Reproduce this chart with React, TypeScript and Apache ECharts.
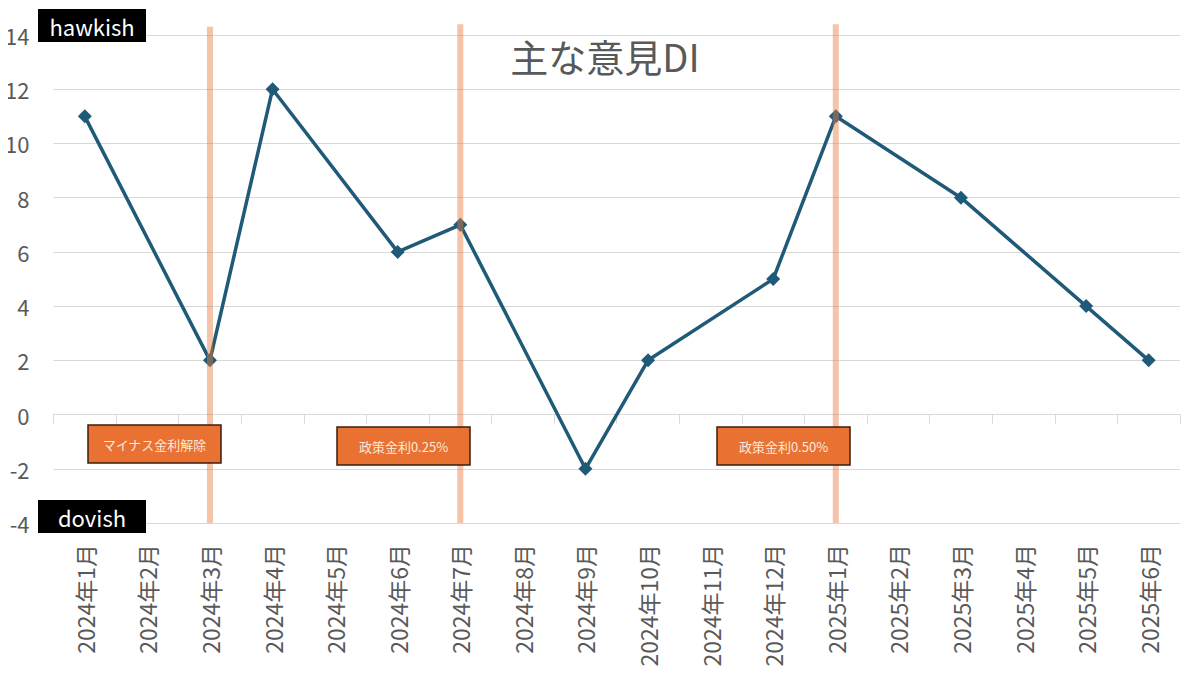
import React, { useEffect, useRef } from "react";
import * as echarts from "echarts";

const categories = [
  "2024年1月", "2024年2月", "2024年3月", "2024年4月", "2024年5月", "2024年6月",
  "2024年7月", "2024年8月", "2024年9月", "2024年10月", "2024年11月", "2024年12月",
  "2025年1月", "2025年2月", "2025年3月", "2025年4月", "2025年5月", "2025年6月",
];
const diValues: (number | null)[] = [
  11, null, 2, 12, null, 6, 7, null, -2, 2, null, 5, 11, null, 8, null, 4, 2,
];
const eventMonths = ["2024年3月", "2024年7月", "2025年1月"];
const eventTops = [14.3, 14.4, 14.4];
const eventLabels = ["マイナス金利解除", "政策金利0.25%", "政策金利0.50%"];

const FONT = "'Noto Sans CJK JP', 'Noto Sans', sans-serif";

export default function App() {
  const ref = useRef<HTMLDivElement>(null);
  useEffect(() => {
    const chart = echarts.init(ref.current!, null, { renderer: "svg" });
    const boxPos = [
      { x: 88, y: 425 },
      { x: 337, y: 427 },
      { x: 717, y: 427 },
    ];
    const boxes = eventLabels.map((t, i) => ({
      type: "group",
      x: boxPos[i].x,
      y: boxPos[i].y,
      z: 100,
      children: [
        {
          type: "rect",
          z: 100,
          shape: { x: 0, y: 0, width: 133, height: 38 },
          style: { fill: "#E97132", stroke: "#3B1E0C", lineWidth: 1.5 },
        },
        {
          type: "text",
          z: 101,
          x: 66.5,
          y: 19,
          style: {
            text: t,
            fill: "#FBE9DD",
            fontSize: 13,
            fontFamily: FONT,
            align: "center",
            verticalAlign: "middle",
          },
        },
      ],
    }));
    const tagBox = (label: string, y: number) => ({
      type: "group",
      x: 38,
      y,
      z: 100,
      children: [
        { type: "rect", z: 100, shape: { x: 0, y: 0, width: 108, height: 33 }, style: { fill: "#000000" } },
        {
          type: "text",
          z: 101,
          x: 54,
          y: 16.5,
          style: {
            text: label,
            fill: "#FFFFFF",
            fontSize: 22,
            fontFamily: FONT,
            align: "center",
            verticalAlign: "middle",
          },
        },
      ],
    });
    chart.setOption({
      animation: false,
      backgroundColor: "#FFFFFF",
      title: {
        text: "主な意見DI",
        left: 600,
        top: 31,
        textAlign: "center",
        textStyle: { fontSize: 38, fontWeight: "normal", color: "#595959", fontFamily: FONT },
      },
      grid: { left: 53.5, right: 20, top: 35, bottom: 152, containLabel: false },
      xAxis: [
        {
          type: "category",
          data: categories,
          position: "bottom",
          boundaryGap: true,
          axisLine: { show: false, onZero: false },
          axisTick: { show: false },
          axisLabel: {
            rotate: 90,
            margin: 21,
            fontSize: 23,
            color: "#595959",
            fontFamily: FONT,
            interval: 0,
          },
          splitLine: { show: false },
        },
        {
          type: "category",
          data: categories,
          position: "bottom",
          boundaryGap: true,
          axisLine: { show: true, onZero: true, lineStyle: { color: "#D9D9D9", width: 1 } },
          axisTick: { show: true, interval: 0, length: 9, lineStyle: { color: "#D9D9D9" } },
          axisLabel: { show: false, interval: 0 },
          splitLine: { show: false },
        },
      ],
      yAxis: {
        type: "value",
        min: -4,
        max: 14,
        interval: 2,
        axisLine: { show: false },
        axisTick: { show: false },
        axisLabel: { fontSize: 22, color: "#595959", fontFamily: FONT, margin: 24 },
        splitLine: { lineStyle: { color: "#D9D9D9", width: 1 } },
      },
      series: [
        {
          type: "line",
          xAxisIndex: 0,
          data: diValues,
          connectNulls: true,
          symbol: "diamond",
          symbolSize: 14,
          lineStyle: { color: "#1F5A78", width: 3.5 },
          itemStyle: { color: "#1F5A78" },
          z: 2,
        },
        {
          type: "custom",
          xAxisIndex: 0,
          z: 5,
          silent: true,
          clip: false,
          data: eventMonths.map((m, i) => [m, eventTops[i], -4]),
          renderItem: (params: any, api: any) => {
            const top = api.coord([api.value(0), api.value(1)]);
            const bottom = api.coord([api.value(0), api.value(2)]);
            return {
              type: "rect",
              shape: { x: top[0] - 3, y: top[1], width: 6, height: bottom[1] - top[1] },
              style: { fill: "rgba(231,122,62,0.45)" },
            };
          },
        },
      ],
      graphic: [tagBox("hawkish", 9), tagBox("dovish", 500), ...boxes],
    });
    return () => chart.dispose();
  }, []);
  return <div ref={ref} style={{ width: 1200, height: 675, marginLeft: -8, marginTop: -8 }} />;
}
